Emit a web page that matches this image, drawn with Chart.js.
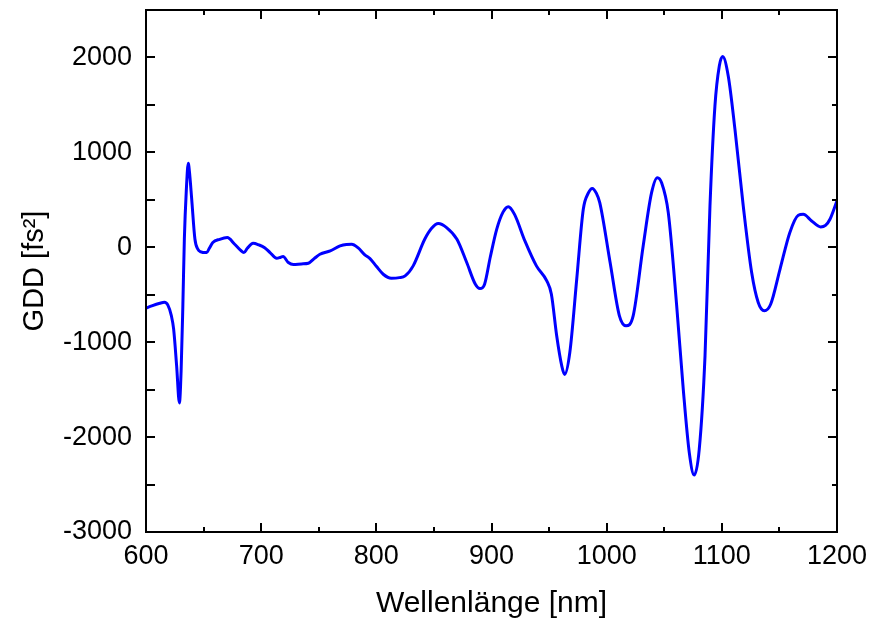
<!DOCTYPE html>
<html>
<head>
<meta charset="utf-8">
<title>GDD</title>
<script src="https://cdn.jsdelivr.net/npm/chart.js@4.4.1/dist/chart.umd.min.js"></script>
<style>
  html, body { margin: 0; padding: 0; background: #fff; }
  canvas { display: block; }
</style>
</head>
<body>
<canvas id="gdd" width="870" height="619"></canvas>
<script>
// Wellenlänge (nm) und GDD (fs^2)
const wl = [
  600, 605, 612, 616, 619, 622, 624, 626.6, 629, 630.5, 632, 633.3, 635, 636.7, 638, 639.7,
  642.5, 645, 647, 652.7, 655, 658, 664, 670.6, 677, 682, 685, 688, 693, 698, 703, 707.7,
  713.5, 717, 719, 723.6, 728, 735, 741, 746, 751, 760, 768.5, 774, 778.6, 784, 790, 794.5,
  800, 806, 813, 820, 825, 832, 842, 848, 853.8, 861, 870, 878.5, 886, 890, 894, 899,
  904.5, 910, 914.6, 920, 929, 939, 948, 952, 956.6, 961, 963.5, 968, 974, 979.7, 984, 987.5,
  991, 994, 1003, 1011, 1016.8, 1023, 1031.7, 1039, 1044, 1047.7, 1053.5, 1060.8, 1066.5, 1071.7, 1076, 1080.4,
  1085.4, 1089.7, 1094, 1097.8, 1100.7, 1105.6, 1111.4, 1118.6, 1125.9, 1131.6, 1136.9, 1142.4, 1150.5, 1159, 1166.4, 1170.7,
  1178, 1185.8, 1190, 1193.9, 1200
];
const gdd = [
  -640, -617, -590, -580, -610, -720, -863, -1250, -1640, -1300, -617, 84, 600, 884, 760, 505,
  84, -20, -45, -56, -10, 50, 84, 102, 32, -30, -56, -10, 42, 25, -4, -56,
  -116, -105, -98, -161, -182, -175, -168, -120, -74, -39, 14, 30, 32, -4, -80, -120,
  -200, -284, -326, -320, -302, -196, 84, 200, 250, 207, 84, -161, -390, -435, -389, -100,
  189, 370, 428, 347, 67, -196, -354, -495, -933, -1250, -1340, -1109, -337, 400, 570, 620,
  570, 470, -161, -720, -828, -723, 14, 575, 733, 680, 365, -617, -1495, -2161, -2400, -2126,
  -1144, 435, 1487, 1909, 2010, 1803, 1242, 435, -266, -582, -670, -600, -232, 154, 337, 347,
  277, 214, 230, 295, 490
];

const xTicks = [600, 700, 800, 900, 1000, 1100, 1200];
const yTicks = [-3000, -2000, -1000, 0, 1000, 2000];
const xMinor = [650, 750, 850, 950, 1050, 1150];
const yMinor = [-2500, -1500, -500, 500, 1500, 2500];

const FONT = "'Liberation Sans', Arial, sans-serif";

// Rahmen + nach innen zeigende Ticks (Origin-Stil)
const rahmen = {
  id: 'rahmen',
  afterDraw(chart) {
    const { ctx, chartArea: a, scales: { x, y } } = chart;
    ctx.save();
    ctx.strokeStyle = '#000';
    ctx.lineWidth = 2;
    ctx.strokeRect(a.left, a.top, a.right - a.left, a.bottom - a.top);
    ctx.beginPath();
    const xs = xTicks.map((v) => [v, 9]).concat(xMinor.map((v) => [v, 5]));
    xs.forEach(([v, len]) => {
      const p = Math.round(x.getPixelForValue(v));
      ctx.moveTo(p, a.bottom); ctx.lineTo(p, a.bottom - len);
      ctx.moveTo(p, a.top); ctx.lineTo(p, a.top + len);
    });
    const ys = yTicks.map((v) => [v, 9, 9]).concat(yMinor.map((v) => [v, 9, 5]));
    ys.forEach(([v, lenL, lenR]) => {
      const p = Math.round(y.getPixelForValue(v));
      ctx.moveTo(a.left, p); ctx.lineTo(a.left + lenL, p);
      ctx.moveTo(a.right, p); ctx.lineTo(a.right - lenR, p);
    });
    ctx.stroke();
    ctx.restore();
  }
};

new Chart(document.getElementById('gdd'), {
  type: 'line',
  data: {
    datasets: [{
      data: wl.map((w, i) => ({ x: w, y: gdd[i] })),
      borderColor: '#0000ff',
      borderWidth: 3,
      pointRadius: 0,
      fill: false,
      cubicInterpolationMode: 'monotone'
    }]
  },
  options: {
    responsive: false,
    animation: false,
    layout: { padding: { top: 10, right: 33, left: 0, bottom: 0 } },
    plugins: { legend: { display: false }, tooltip: { enabled: false } },
    scales: {
      x: {
        type: 'linear', min: 600, max: 1200,
        afterFit: (s) => { s.height = 87; s.paddingLeft = 0; s.paddingRight = 0; },
        afterBuildTicks: (s) => { s.ticks = xTicks.map((v) => ({ value: v })); },
        grid: { display: false, drawTicks: false },
        border: { display: false },
        ticks: { color: '#000', padding: 8, maxRotation: 0, font: { family: FONT, size: 27 }, callback: (v) => String(v) },
        title: { display: true, text: 'Wellenlänge [nm]', color: '#000', padding: { top: 0, bottom: 0 }, font: { family: FONT, size: 30, lineHeight: 1 } }
      },
      y: {
        type: 'linear', min: -3000, max: 2500,
        afterFit: (s) => { s.width = 146; s.paddingTop = 0; s.paddingBottom = 0; },
        afterBuildTicks: (s) => { s.ticks = yTicks.map((v) => ({ value: v })); },
        grid: { display: false, drawTicks: false },
        border: { display: false },
        ticks: { color: '#000', padding: 14, font: { family: FONT, size: 27 }, callback: (v) => String(v) },
        title: { display: true, text: 'GDD [fs²]', color: '#000', padding: { top: 20, bottom: 0 }, font: { family: FONT, size: 29, lineHeight: 1 } }
      }
    }
  },
  plugins: [rahmen]
});
</script>
</body>
</html>
